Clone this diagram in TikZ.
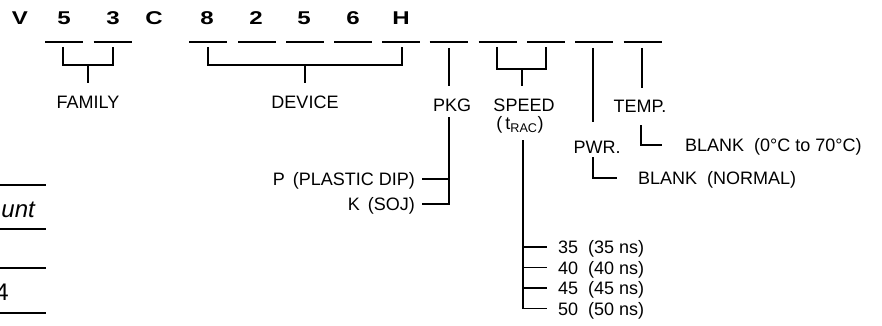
\documentclass[tikz,border=0pt]{standalone}
\usepackage{fontspec}
\setmainfont{Liberation Sans}
\usetikzlibrary{positioning}
\newcommand{\widechar}[1]{\scalebox{1.3}[1]{#1}}

\begin{document}
\begin{tikzpicture}[x=1pt,y=-1pt,
  lbl/.style={font=\fontsize{18}{20}\selectfont,inner sep=0pt,text height=13pt,text depth=0pt},
  big/.style={font=\fontsize{18.5}{20}\selectfont\bfseries,inner sep=0pt,text height=13pt,text depth=0pt},
  tbl/.style={font=\fontsize{24}{26}\selectfont,inner sep=0pt},
  uline/.style={line width=2.2pt},
  conn/.style={line width=1.2pt}]
\useasboundingbox (0,0) rectangle (882,326);
% part number
\node[big] (cV) at (20,18.5) {\widechar{V}};
\node[big] (c5) at (64,18.5) {\widechar{5}};
\node[big] (c3) at (113,18.5) {\widechar{3}};
\node[big] (cC) at (154,18.5) {\widechar{C}};
\node[big] (d8) at (207,18.5) {\widechar{8}};
\node[big] (d2) at (256,18.5) {\widechar{2}};
\node[big] (d5) at (304,18.5) {\widechar{5}};
\node[big] (d6) at (353,18.5) {\widechar{6}};
\node[big] (dH) at (401,18.5) {\widechar{H}};
\foreach \x in {64,112.5,208,257,305,353,401,448.5,497.5,546,594,642.5}
  \draw[uline] (\x-19,42) -- (\x+19,42);
% field labels
\node[lbl] (fam) at (88,101.5) {FAMILY};
\node[lbl] (dev) at (305,101.5) {DEVICE};
\node[lbl] (pkg) at (452,105) {PKG};
\node[lbl] (spd) at (524,105) {SPEED};
\node[lbl] (trac) at (520,123) {(\,t\textsubscript{RAC})};
\node[lbl] (pwr) at (597,146.5) {PWR.};
\node[lbl] (tmp) at (640,106.5) {TEMP.};
% brackets
\draw[conn] (63,47) |- (113,65) -- (113,47);
\draw[conn, shorten >=12pt] (88,65) -- (fam.north);
\draw[conn] (208,47) |- (402,65) -- (402,47);
\draw[conn, shorten >=12pt] (305,65) -- (dev.north);
\draw[conn, shorten >=12pt] (449,48) -- (pkg.north -| 449,0);
\draw[conn] (497,47) |- (546,69) -- (546,47);
\draw[conn, shorten >=12pt] (522,69) -- (spd.north -| 522,0);
\draw[conn, shorten >=18pt] (593,48) -- (pwr.north -| 593,0);
\draw[conn, shorten >=12pt] (642,48) -- (tmp.north -| 642,0);
% options
\node[lbl, anchor=east] (pP) at (415,179) {P\hspace{8pt}(PLASTIC DIP)};
\node[lbl, anchor=east] (pK) at (415,204) {K\hspace{8pt}(SOJ)};
\coordinate (pkgB) at (449,117);
\draw[conn] (pkgB) |- ([xshift=7pt]pK.east);
\draw[conn] (pkgB |- pP.east) -- ([xshift=7pt]pP.east);
\node[lbl, anchor=west] (bTmp) at (685,145) {BLANK\hspace{10pt}(0°C to 70°C)};
\draw[conn] (641,125) |- ([xshift=-23pt]bTmp.west);
\node[lbl, anchor=west] (bPwr) at (638,178) {BLANK\hspace{10pt}(NORMAL)};
\draw[conn] (593,157) |- ([xshift=-21pt]bPwr.west);
\foreach \v/\y in {35/247,40/267.5,45/288,50/308.5}
  \node[lbl, anchor=west] (s\v) at (558,\y) {\v\hspace{10pt}(\v\ ns)};
\coordinate (spdB) at (523,140);
\draw[conn] (spdB) |- ([xshift=-11pt]s50.west);
\foreach \v in {35,40,45}
  \draw[conn] (spdB |- s\v.west) -- ([xshift=-11pt]s\v.west);
% table edge at left
\foreach \y in {185,229,268,313}
  \draw[conn] (0,\y) -- (46,\y);
\node[tbl, anchor=base east, font=\fontsize{24}{26}\selectfont\itshape] (tUnt) at (35,217) {unt};
\node[tbl, anchor=base east] (t4) at (9,300) {4};
\end{tikzpicture}
\end{document}
